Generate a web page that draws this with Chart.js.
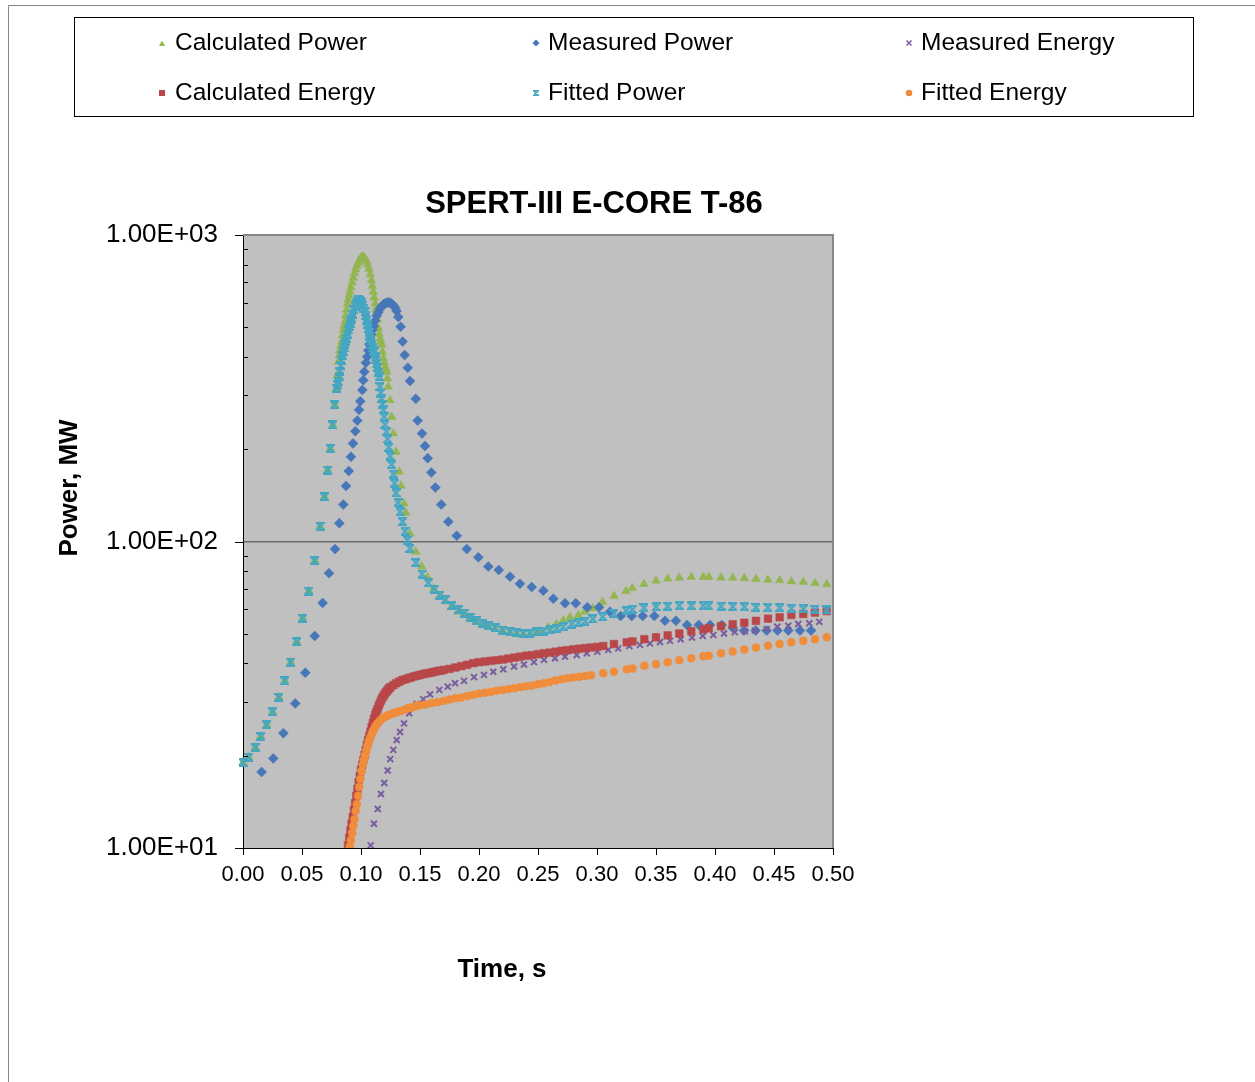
<!DOCTYPE html>
<html><head><meta charset="utf-8">
<script src="https://cdn.jsdelivr.net/npm/chart.js@4.4.1/dist/chart.umd.min.js"></script>
<style>
html,body{margin:0;padding:0;background:#fff;overflow:hidden;}
#c{display:block;}
</style></head>
<body>
<canvas id="c" width="1255" height="1082"></canvas>
<script>
// ---------------- DATA ----------------
const chartTitle = 'SPERT-III E-CORE T-86';
const xAxisTitle = 'Time, s';
const yAxisTitle = 'Power, MW';
const seriesNames = ['Calculated Power','Measured Power','Measured Energy','Calculated Energy','Fitted Power','Fitted Energy'];

const xTickValues = [0,0.05,0.10,0.15,0.20,0.25,0.30,0.35,0.40,0.45,0.50];
const xTickLabels = ['0.00','0.05','0.10','0.15','0.20','0.25','0.30','0.35','0.40','0.45','0.50'];
const yTickValues = [10,100,1000];
const yTickLabels = ['1.00E+01','1.00E+02','1.00E+03'];
const yMinorValues = [20,30,40,50,60,70,80,90,200,300,400,500,600,700,800,900];

const calcPowerT = [0,0.0047,0.0104,0.015,0.02,0.025,0.0303,0.0354,0.0404,0.0455,0.0506,0.0557,0.0608,0.0653,0.069,0.0718,0.074,0.076,0.0777,0.0794,
 0.0801,0.0808,0.0815,0.0822,0.0829,0.0836,0.0843,0.085,0.0857,0.0864,0.0871,0.0879,0.0886,0.0893,0.09,0.0907,0.0915,0.0925,0.0935,0.0945,
 0.0955,0.0965,0.0975,0.0985,0.0995,0.1005,0.1011,0.1018,0.1028,0.1038,0.1048,0.1058,0.1068,0.1078,0.1088,0.1096,0.1104,0.1112,0.112,0.1127,
 0.1133,0.114,0.1147,0.1154,0.1161,0.1168,0.1175,0.1182,0.1189,0.1196,0.1204,0.1211,0.1218,0.1224,0.1231,0.1246,0.126,0.1274,0.1297,0.1325,
 0.1339,0.1364,0.1381,0.1415,0.1464,0.1514,0.1565,0.1616,0.1667,0.172,0.1769,0.1825,0.1873,0.1924,0.1975,0.2031,0.2079,0.2136,0.2201,0.2263,
 0.2319,0.2375,0.2432,0.2489,0.2517,0.2587,0.2658,0.2715,0.2771,0.2842,0.2898,0.2964,0.3048,0.3144,0.3246,0.3299,0.3398,0.35,0.3599,0.3697,
 0.3799,0.3901,0.3947,0.4051,0.415,0.4248,0.4347,0.4449,0.4548,0.4647,0.4748,0.4847,0.4947];
const calcPowerV = [19.0,19.8,21.3,23.1,25.2,27.8,31.0,35.1,40.4,47.1,56.2,68.9,86.6,112,140,171,201,240,279,316,
 350,386,405,420,435,449,470,490,505,521,545,570,595,615,635,653,675,700,725,750,
 772,792,810,825,838,846,849,848,843,833,818,800,775,745,712,682,653,625,598,575,
 562,530,496,475,458,448,438,415,396,383,372,365,358,340,320,289,255,225,196,169,
 152,133,124,106,92.6,82.8,76.4,70.2,66.4,63.8,61.3,59.0,57.6,56.2,54.7,53.8,52.7,51.8,51.0,50.4,
 49.8,49.5,49.6,50.3,51.0,52.5,53.8,55.2,56.6,57.6,59.0,60.5,63.5,66.4,68.9,70.5,72.7,74.5,75.6,76.2,
 76.6,76.6,76.6,76.2,76.2,75.9,75.4,75.0,74.7,74.1,73.8,73.2,72.5];

const fitPowerT = [0,0.0047,0.0104,0.015,0.02,0.025,0.0303,0.0354,0.0404,0.0455,0.0506,0.0557,0.0608,0.0653,0.069,0.0718,0.074,0.076,0.0777,0.0794,
 0.0801,0.0808,0.0815,0.0822,0.0829,0.0836,0.0843,0.085,0.0857,0.0864,0.0871,0.0879,0.0886,0.0893,0.09,0.0907,
 0.0914,0.0921,0.093,0.094,0.095,0.096,0.097,0.0977,0.0985,0.0995,0.1005,0.1015,0.1025,0.1034,
 0.1041,0.1048,0.1055,0.1062,0.1069,0.1076,0.1084,0.1091,0.1098,0.1105,
 0.1112,0.1119,0.1126,0.1132,0.1138,0.1146,0.1155,0.1161,0.1168,0.1175,
 0.1182,0.1189,0.1196,0.1203,0.1215,0.1226,0.1236,0.1246,0.126,0.1274,
 0.1285,0.1297,0.1314,0.1331,0.1352,0.1373,0.1394,0.1415,0.1466,0.1517,
 0.157,0.1619,0.1669,0.1712,0.1769,0.1825,0.1873,0.1924,0.1975,0.2031,
 0.2079,0.2136,0.2201,0.2263,0.2319,0.2375,0.2432,0.2489,0.2545,0.2602,
 0.2658,0.2714,0.2786,0.2842,0.2898,0.2964,0.3048,0.3144,0.3246,0.3299,
 0.3398,0.35,0.3599,0.3697,0.3799,0.3901,0.3947,0.4051,0.415,0.4248,
 0.4347,0.4449,0.4548,0.4647,0.4748,0.4847,0.4947];
const fitPowerV = [19.0,19.8,21.3,23.1,25.2,27.8,31.0,35.1,40.4,47.1,56.2,68.9,86.6,112,140,171,201,240,279,316,
 325,332,345,358,375,390,403,416,428,440,450,460,475,490,503,515,
 525,535,552,570,585,598,608,614,613,608,600,590,577,562,
 545,528,512,496,482,468,452,438,428,420,
 416,400,391,380,370,357,345,320,305,293,
 280,269,255,241,228,216,203,190,178,166,
 155,144,134,125,116,108,101,95.0,85.3,78.3,
 73.3,69.8,66.9,64.5,61.7,59.9,58.3,56.6,55.1,54.1,
 53.1,52.3,51.4,50.8,50.4,50.2,50.2,50.7,51.0,51.5,
 52.1,52.7,53.8,54.3,54.9,55.9,56.8,58.3,59.5,60.1,
 60.8,61.2,61.5,61.7,61.7,61.7,61.7,61.5,61.3,61.2,
 61.0,60.9,60.8,60.5,60.3,60.1,59.8];

const measPowerT = [0.0158,0.0257,0.0342,0.0443,0.0528,0.0608,0.0675,0.0729,0.078,0.0816,
 0.085,0.0873,0.0896,0.0915,0.0932,0.0952,0.0969,0.0983,0.0994,0.1011,
 0.1019,0.1028,0.1042,0.1053,0.1062,0.107,0.1078,0.1087,0.1097,0.1107,
 0.1119,0.1133,0.1147,0.1161,0.1175,0.119,0.1204,0.1218,0.1232,0.1246,
 0.126,0.1274,0.1288,0.1302,0.1316,0.1336,0.1353,0.137,0.1396,0.1415,
 0.1464,0.148,0.1517,0.1542,0.1565,0.1596,0.163,0.168,0.174,0.1811,
 0.1896,0.1994,0.2079,0.2167,0.2263,0.2347,0.2447,0.2545,0.263,0.2729,
 0.282,0.2918,0.3017,0.311,0.32,0.3294,0.3387,0.3486,0.3576,0.3669,
 0.3763,0.3862,0.3958,0.4057,0.415,0.4246,0.4345,0.4438,0.453,0.4621,
 0.472,0.4814];
const measPowerV = [17.7,19.6,23.7,29.6,37.3,49.2,63.0,78.8,94.5,114.7,
 132,151.7,169.8,189,209,229,248,269,287,312,
 336,358,383,401,420,440,458,474,490,505,
 525,545,560,575,585,593,598,601,602,601,
 597,590,580,565,540,502,449,406,369,334,
 292,248,225,205,187,168,150,132,116,104.4,
 94.5,88.8,82.8,80.7,76.8,72.8,71.0,69.1,65.1,62.9,
 62.9,61.0,61.0,59.0,57.1,57.1,57.1,57.1,55.1,55.1,
 53.4,53.4,53.4,53.4,52.3,51.2,51.2,51.2,51.2,51.2,
 51.2,51.2];

const calcEnergyT = [0.089,0.090,0.091,0.092,0.093,0.094,0.095,0.096,0.097,0.098,0.099,0.100,0.101,0.102,0.103,0.104,0.105,0.106,0.107,0.108,
 0.109,0.110,0.111,0.112,0.113,0.114,0.115,0.116,0.117,0.118,0.119,0.120,0.121,0.122,0.123,0.124,0.125,
 0.1275,0.130,0.1325,0.135,0.1375,0.140,0.1425,0.145,0.1475,0.150,0.1525,0.155,0.1575,0.160,0.1625,0.165,0.1675,0.170,
 0.175,0.180,0.185,0.190,0.195,0.200,0.205,0.210,0.215,0.220,0.225,0.230,0.235,0.240,0.245,0.250,0.255,0.260,0.265,0.270,0.275,0.280,0.285,0.290,0.295,0.300,
 0.3053,0.3144,0.3252,0.3301,0.3401,0.35,0.3599,0.3697,0.3799,0.3901,0.3947,0.4051,0.415,0.4248,0.4347,0.4449,0.4548,0.4647,0.4748,0.4847,0.4947];
const calcEnergyV = [10.2,10.8,11.4,12.0,12.6,13.3,14.0,14.8,15.6,16.4,17.2,18.0,18.7,19.4,20.1,20.9,21.7,22.5,23.2,24.0,
 24.8,25.6,26.4,27.2,27.8,28.4,29.1,29.7,30.3,30.9,31.3,31.8,32.2,32.5,32.9,33.2,33.5,
 34.0,34.5,34.9,35.3,35.5,35.8,36.0,36.3,36.5,36.7,36.9,37.1,37.2,37.4,37.6,37.8,37.9,38.1,
 38.4,38.8,39.2,39.6,40.1,40.4,40.6,40.8,41.0,41.2,41.5,41.8,42.1,42.4,42.6,42.9,43.2,43.4,43.7,44.0,44.2,44.5,44.7,44.9,45.1,45.3,
 45.6,46.3,46.9,47.2,48.0,48.7,49.4,50.1,51.0,51.7,52.1,52.9,53.7,54.3,55.1,56.0,56.6,57.6,58.0,58.6,59.3];

const measEnergyT = [0.1082,0.111,0.1142,0.1169,0.1197,0.1226,0.1248,0.1274,0.1303,0.1331,
 0.1364,0.1409,0.1472,0.1528,0.1585,0.1664,0.1735,0.1797,0.1873,0.1958,
 0.2042,0.2121,0.2206,0.2297,0.2381,0.2466,0.2551,0.2644,0.2729,0.2828,
 0.2913,0.3003,0.3096,0.318,0.3274,0.3364,0.3449,0.3534,0.3619,0.3709,
 0.3805,0.3896,0.3986,0.4076,0.4168,0.4254,0.4339,0.4438,0.4528,0.4621,
 0.4706,0.4799,0.4884];
const measEnergyV = [10.2,12.0,13.4,15.0,16.3,17.9,19.5,20.9,22.5,23.9,
 25.5,27.5,29.5,30.6,31.7,32.8,33.6,34.5,35.1,36.1,
 36.7,37.6,38.3,39.1,39.7,40.4,41.1,41.6,42.1,42.6,
 43.2,43.7,44.3,44.8,45.6,46.0,46.5,47.0,47.4,48.0,
 48.6,49.2,49.5,50.1,50.6,50.9,51.2,51.8,52.7,53.1,
 53.8,54.1,54.7];

const fitEnergyT = [0.0905,0.0915,0.0925,0.0935,0.0945,0.0955,0.0965,0.0975,0.0985,0.0995,0.1005,0.1015,0.1025,0.1035,0.1045,0.1055,0.1065,0.1075,0.1085,0.1095,
 0.1105,0.1115,0.1125,0.1135,0.1145,0.116,0.1175,0.119,0.1205,0.122,0.124,0.126,0.128,0.13,0.1325,0.135,0.1375,0.14,0.1425,0.145,0.1475,0.15,
 0.155,0.16,0.165,0.17,0.175,0.18,0.185,0.19,0.195,0.2,0.205,0.21,0.215,0.22,0.225,0.23,0.235,0.24,0.245,0.25,0.255,0.26,0.265,0.27,0.275,0.28,0.285,0.29,0.295,
 0.3053,0.3144,0.3252,0.3301,0.3401,0.35,0.3599,0.3697,0.3799,0.3901,0.3947,0.4051,0.415,0.4248,0.4347,0.4449,0.4548,0.4647,0.4748,0.4847,0.4947];
const fitEnergyV = [10.1,10.6,11.2,11.8,12.4,13.2,13.9,14.8,15.8,16.8,17.8,18.7,19.4,20.1,20.8,21.5,22.1,22.7,23.2,23.7,
 24.2,24.6,25.0,25.3,25.6,26.0,26.3,26.6,26.8,27.0,27.2,27.4,27.6,27.7,27.9,28.1,28.3,28.6,28.7,28.9,29.1,29.2,
 29.4,29.7,29.9,30.2,30.5,30.8,31.0,31.3,31.6,31.9,32.1,32.3,32.6,32.8,33.0,33.2,33.5,33.7,33.9,34.2,34.5,34.8,35.2,35.5,35.8,36.0,36.2,36.4,36.6,
 37.2,37.6,38.3,38.5,39.3,39.8,40.4,41.0,41.6,42.2,42.4,43.2,43.8,44.4,45.0,45.7,46.3,46.9,47.4,48.0,48.7];

// ---------------- STYLE ----------------
const FONT = '"Liberation Sans", Arial, Helvetica, sans-serif';
const C_GREEN = '#93b650', C_BLUE = '#4777b8', C_PURPLE = '#7a5d9e',
      C_RED = '#b9474a', C_CYAN = '#44a6c2', C_ORANGE = '#ef8d3c';

function pts(t, v){ return t.map((x,i)=>({x:x, y:v[i]})); }

function hourglassImg(size, color, lw){
  const c = document.createElement('canvas');
  c.width = size; c.height = size;
  const g = c.getContext('2d');
  g.strokeStyle = color; g.lineWidth = lw; g.lineCap = 'butt';
  const a = lw/2, b = size - lw/2;
  g.beginPath();
  g.moveTo(a,a); g.lineTo(b,b);
  g.moveTo(b,a); g.lineTo(a,b);
  g.moveTo(0,a); g.lineTo(size,a);
  g.moveTo(0,b); g.lineTo(size,b);
  g.stroke();
  return c;
}
const fitPowerMarker = hourglassImg(9, C_CYAN, 2);

// ---------------- DECORATION PLUGIN ----------------
const deco = {
  id: 'deco',
  beforeDraw(chart){
    const {ctx, chartArea:a} = chart;
    ctx.save();
    ctx.fillStyle = '#ffffff';
    ctx.fillRect(0, 0, chart.width, chart.height);
    ctx.fillStyle = '#c0c0c0';
    ctx.fillRect(a.left, a.top, a.right - a.left, a.bottom - a.top);
    ctx.restore();
  },
  beforeDatasetsDraw(chart){
    const {ctx, chartArea:a} = chart;
    ctx.save();
    ctx.strokeStyle = '#878787'; ctx.lineWidth = 2;
    ctx.beginPath();
    ctx.moveTo(a.left, a.top); ctx.lineTo(a.right, a.top); ctx.lineTo(a.right, a.bottom);
    ctx.stroke();
    ctx.restore();
  },
  afterDraw(chart){
    const {ctx, chartArea:a} = chart;
    const xs = chart.scales.x, ys = chart.scales.y;
    ctx.save();
    // tick marks
    ctx.strokeStyle = '#000'; ctx.lineWidth = 1;
    ctx.beginPath();
    yTickValues.forEach(v=>{ const y = Math.round(ys.getPixelForValue(v)) + 0.5; ctx.moveTo(a.left - 8, y); ctx.lineTo(a.left, y); });
    yMinorValues.forEach(v=>{ const y = Math.round(ys.getPixelForValue(v)) + 0.5; ctx.moveTo(a.left, y); ctx.lineTo(a.left + 5, y); });
    xTickValues.forEach(v=>{ const x = Math.round(xs.getPixelForValue(v)) + 0.5; ctx.moveTo(x, a.bottom); ctx.lineTo(x, a.bottom + 7); });
    ctx.stroke();

    // titles
    ctx.fillStyle = '#000';
    ctx.textAlign = 'center'; ctx.textBaseline = 'alphabetic';
    ctx.font = 'bold 31px ' + FONT;
    ctx.fillText(chartTitle, 594, 213);
    ctx.font = 'bold 26px ' + FONT;
    ctx.fillText(xAxisTitle, 502, 977);
    ctx.save();
    ctx.translate(77, 488); ctx.rotate(-Math.PI/2);
    ctx.fillText(yAxisTitle, 0, 0);
    ctx.restore();

    // outer frame
    ctx.strokeStyle = '#868686'; ctx.lineWidth = 1;
    ctx.beginPath();
    ctx.moveTo(8.5, 1082); ctx.lineTo(8.5, 5.5); ctx.lineTo(1255, 5.5);
    ctx.stroke();

    // legend box
    ctx.strokeStyle = '#000'; ctx.lineWidth = 1;
    ctx.strokeRect(74.5, 17.5, 1119, 99);

    // legend entries
    const items = [
      {name: seriesNames[0], mx:162, my:44, tx:175, ty:50, kind:'tri', c:C_GREEN},
      {name: seriesNames[1], mx:536, my:43, tx:548, ty:50, kind:'dia', c:C_BLUE},
      {name: seriesNames[2], mx:909, my:43, tx:921, ty:50, kind:'x', c:C_PURPLE},
      {name: seriesNames[3], mx:162, my:93, tx:175, ty:99.5, kind:'sq', c:C_RED},
      {name: seriesNames[4], mx:536, my:93, tx:548, ty:99.5, kind:'hg', c:C_CYAN},
      {name: seriesNames[5], mx:909, my:93, tx:921, ty:99.5, kind:'ci', c:C_ORANGE}
    ];
    ctx.font = '24.5px ' + FONT;
    ctx.textAlign = 'left';
    items.forEach(it=>{
      ctx.fillStyle = it.c; ctx.strokeStyle = it.c;
      const x = it.mx, y = it.my;
      ctx.beginPath();
      if (it.kind === 'tri'){ ctx.moveTo(x, y-3.5); ctx.lineTo(x+3, y+2); ctx.lineTo(x-3, y+2); ctx.closePath(); ctx.fill(); }
      else if (it.kind === 'dia'){ ctx.moveTo(x, y-3.5); ctx.lineTo(x+3.5, y); ctx.lineTo(x, y+3.5); ctx.lineTo(x-3.5, y); ctx.closePath(); ctx.fill(); }
      else if (it.kind === 'x'){ ctx.lineWidth = 1.5; ctx.moveTo(x-2.5,y-2.5); ctx.lineTo(x+2.5,y+2.5); ctx.moveTo(x+2.5,y-2.5); ctx.lineTo(x-2.5,y+2.5); ctx.stroke(); }
      else if (it.kind === 'sq'){ ctx.fillRect(x-3, y-3, 6, 6); }
      else if (it.kind === 'hg'){ ctx.drawImage(hourglassImg(6, C_CYAN, 1.4), x-3, y-3); }
      else if (it.kind === 'ci'){ ctx.arc(x, y, 3.3, 0, Math.PI*2); ctx.fill(); }
      ctx.fillStyle = '#000';
      ctx.fillText(it.name, it.tx, it.ty);
    });
    ctx.restore();
  }
};

// ---------------- CHART ----------------
const clipBox = {left: 10, top: 10, right: 10, bottom: 0};
new Chart(document.getElementById('c'), {
  type: 'scatter',
  data: {
    datasets: [
      {label: seriesNames[5], data: pts(fitEnergyT, fitEnergyV), pointStyle:'circle', pointRadius:4, backgroundColor:C_ORANGE, borderColor:C_ORANGE, borderWidth:0.5, order:0, clip:clipBox},
      {label: seriesNames[4], data: pts(fitPowerT, fitPowerV), pointStyle: fitPowerMarker, pointRadius:4.5, backgroundColor:C_CYAN, borderColor:C_CYAN, order:1, clip:clipBox},
      {label: seriesNames[3], data: pts(calcEnergyT, calcEnergyV), pointStyle:'rect', pointRadius:5.4, backgroundColor:C_RED, borderColor:C_RED, borderWidth:0.5, order:2, clip:clipBox},
      {label: seriesNames[2], data: pts(measEnergyT, measEnergyV), pointStyle:'crossRot', pointRadius:4.2, backgroundColor:C_PURPLE, borderColor:C_PURPLE, borderWidth:2, order:3, clip:clipBox},
      {label: seriesNames[1], data: pts(measPowerT, measPowerV), pointStyle:'rectRot', pointRadius:5, backgroundColor:C_BLUE, borderColor:C_BLUE, borderWidth:0.5, order:4, clip:clipBox},
      {label: seriesNames[0], data: pts(calcPowerT, calcPowerV), pointStyle:'triangle', pointRadius:5, backgroundColor:C_GREEN, borderColor:C_GREEN, borderWidth:0.5, order:5, clip:clipBox}
    ]
  },
  options: {
    responsive: false,
    animation: false,
    events: [],
    layout: {padding: {left: 0, top: 235, right: 1255 - 833, bottom: 0}},
    plugins: {legend: {display: false}, title: {display: false}, tooltip: {enabled: false}},
    scales: {
      x: {
        type: 'linear', min: 0, max: 0.5,
        afterBuildTicks: s => { s.ticks = xTickValues.map(v => ({value: v})); },
        afterFit: s => { s.height = 1082 - 848; },
        ticks: {callback: (v, i) => xTickLabels[i], font: {family: FONT, size: 22}, color: '#000', padding: 14, maxRotation: 0, autoSkip: false},
        grid: {display: false, drawTicks: false},
        border: {display: true, color: '#000', width: 1}
      },
      y: {
        type: 'logarithmic', min: 10, max: 1000,
        afterBuildTicks: s => { s.ticks = yTickValues.map(v => ({value: v})); },
        afterFit: s => { s.width = 243; },
        ticks: {callback: (v, i) => yTickLabels[i], font: {family: FONT, size: 26}, color: '#000', padding: 25, autoSkip: false},
        grid: {drawTicks: false, color: c => (c.tick && c.tick.value === 100) ? '#6a6a6a' : 'rgba(0,0,0,0)', lineWidth: 1.5},
        border: {display: true, color: '#000', width: 1}
      }
    }
  },
  plugins: [deco]
});
</script>
</body></html>
